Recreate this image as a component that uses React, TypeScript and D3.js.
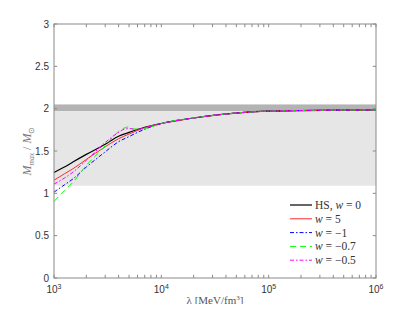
import { curveMonotoneX, line, scaleLinear, scaleLog } from "d3";

// lambda [MeV/fm^3] and M_max / M_sun per curve
const lamHS = [1e3, 1.25e3, 1.5e3, 2e3, 3e3, 4e3, 5e3, 7e3, 1e4, 2e4, 3.5e4, 6e4, 1e5, 2e5, 5e5, 1e6];
const massHS = [1.245, 1.31, 1.37, 1.46, 1.58, 1.675, 1.72, 1.78, 1.825, 1.89, 1.93, 1.957, 1.97, 1.978, 1.983, 1.985];

const lamW5 = [1e3, 1.25e3, 1.5e3, 2e3, 3e3, 4e3, 5e3, 7e3, 1e4, 2e4, 3.5e4, 6e4, 1e5, 2e5, 5e5, 1e6];
const massW5 = [1.155, 1.23, 1.29, 1.4, 1.55, 1.645, 1.7, 1.775, 1.825, 1.89, 1.93, 1.957, 1.97, 1.978, 1.983, 1.985];

const lamWm1 = [1e3, 1.25e3, 1.5e3, 2e3, 3e3, 4e3, 5e3, 6e3, 8e3, 1e4, 2e4, 3.5e4, 6e4, 1e5, 2e5, 5e5, 1e6];
const massWm1 = [1.015, 1.1, 1.17, 1.31, 1.49, 1.61, 1.67, 1.72, 1.785, 1.825, 1.89, 1.93, 1.957, 1.97, 1.978, 1.983, 1.985];

const lamWm07 = [1e3, 1.25e3, 1.5e3, 2e3, 3e3, 3.5e3, 4.5e3, 5e3, 5.5e3, 6.5e3, 8e3, 1e4, 2e4, 3.5e4, 6e4, 1e5, 2e5, 5e5, 1e6];
const massWm07 = [0.905, 1.03, 1.13, 1.33, 1.56, 1.66, 1.77, 1.785, 1.76, 1.76, 1.785, 1.825, 1.89, 1.93, 1.957, 1.97, 1.978, 1.983, 1.985];

const lamWm05 = [1e3, 1.25e3, 1.5e3, 2e3, 3e3, 4e3, 4.6e3, 5.2e3, 5.8e3, 7e3, 1e4, 2e4, 3.5e4, 6e4, 1e5, 2e5, 5e5, 1e6];
const massWm05 = [1.11, 1.18, 1.25, 1.39, 1.6, 1.72, 1.76, 1.765, 1.75, 1.775, 1.825, 1.89, 1.93, 1.957, 1.97, 1.978, 1.983, 1.985];

// observational bands
const darkBand = [1.97, 2.05];
const lightBand = [1.09, 1.97];

const yTicks = [0, 0.5, 1, 1.5, 2, 2.5, 3];
const xDecades = [3, 4, 5, 6];

const series = [
  { name: "HS", w: "0", lam: lamHS, mass: massHS, color: "#000000", dash: "" },
  { name: "", w: "5", lam: lamW5, mass: massW5, color: "#ff2a2a", dash: "" },
  { name: "", w: "\u22121", lam: lamWm1, mass: massWm1, color: "#0000ff", dash: "4,2,1.5,2" },
  { name: "", w: "\u22120.7", lam: lamWm07, mass: massWm07, color: "#00ff00", dash: "6,4" },
  { name: "", w: "\u22120.5", lam: lamWm05, mass: massWm05, color: "#ff00ff", dash: "4,2,1.5,2" },
];

export default function App() {
  const width = 415;
  const height = 312;
  const left = 54;
  const right = 376;
  const top = 24;
  const bottom = 278;

  const x = scaleLog().domain([1e3, 1e6]).range([left, right]);
  const y = scaleLinear().domain([0, 3]).range([bottom, top]);

  const minor: number[] = [];
  for (let d = 3; d < 6; d++) {
    for (let k = 2; k <= 9; k++) minor.push(k * Math.pow(10, d));
  }

  const axisColor = "#8a8a8a";
  const textColor = "#333333";
  const tickLen = 3.2;
  const serif = "'Liberation Serif', 'Times New Roman', serif";

  return (
    <svg width={width} height={height} style={{ display: "block", margin: "-8px" }}>
      <rect width={width} height={height} fill="#ffffff" />
      <rect x={left} y={y(darkBand[1])} width={right - left} height={y(darkBand[0]) - y(darkBand[1])} fill="#b3b3b3" />
      <rect x={left} y={y(lightBand[1])} width={right - left} height={y(lightBand[0]) - y(lightBand[1])} fill="#e6e6e6" />

      {series.map((s, i) => {
        const d = line<number>()
          .x((_, j) => x(s.lam[j]))
          .y((v) => y(v))
          .curve(curveMonotoneX)(s.mass);
        return (
          <path
            key={i}
            d={d ?? ""}
            fill="none"
            stroke={s.color}
            strokeWidth={i === 0 ? 1.2 : 1}
            strokeDasharray={s.dash || undefined}
          />
        );
      })}

      {/* axes box */}
      <rect x={left} y={top} width={right - left} height={bottom - top} fill="none" stroke={axisColor} strokeWidth="1" />

      {yTicks.map((t) => (
        <g key={t}>
          <line x1={left} x2={left + tickLen} y1={y(t)} y2={y(t)} stroke={axisColor} />
          <line x1={right} x2={right - tickLen} y1={y(t)} y2={y(t)} stroke={axisColor} />
          <text
            x={left - 5}
            y={y(t)}
            dy="0.35em"
            textAnchor="end"
            fontFamily="'Liberation Sans', Arial, sans-serif"
            fontSize="10"
            fill={textColor}
          >
            {t}
          </text>
        </g>
      ))}

      {[...xDecades.map((d) => Math.pow(10, d)), ...minor].map((v) => (
        <g key={v}>
          <line x1={x(v)} x2={x(v)} y1={bottom} y2={bottom - tickLen} stroke={axisColor} />
          <line x1={x(v)} x2={x(v)} y1={top} y2={top + tickLen} stroke={axisColor} />
        </g>
      ))}

      {xDecades.map((d) => (
        <text
          key={d}
          x={x(Math.pow(10, d))}
          y={293}
          textAnchor="middle"
          fontFamily="'Liberation Sans', Arial, sans-serif"
          fontSize="10"
          fill={textColor}
        >
          10
          <tspan fontSize="7" dy="-4">
            {d}
          </tspan>
        </text>
      ))}

      <text
        x={(left + right) / 2}
        y={304}
        textAnchor="middle"
        fontFamily={serif}
        fontSize="11"
        fill="#555555"
      >
        λ [MeV/fm
        <tspan fontSize="7" dy="-4">
          3
        </tspan>
        <tspan dy="4">]</tspan>
      </text>

      <text
        transform={`translate(31, ${(top + bottom) / 2}) rotate(-90)`}
        textAnchor="middle"
        fontFamily={serif}
        fontSize="12"
        fill="#777777"
      >
        <tspan fontStyle="italic">M</tspan>
        <tspan fontSize="7.5" fontStyle="italic" dy="2.5">
          max
        </tspan>
        <tspan dy="-2.5"> / </tspan>
        <tspan fontStyle="italic">M</tspan>
        <tspan fontSize="7.5" dy="2.5">
          ⊙
        </tspan>
      </text>

      {/* legend */}
      {series.map((s, i) => {
        const ly = 205 + i * 13.8;
        return (
          <g key={i}>
            <line
              x1={290}
              x2={312}
              y1={ly}
              y2={ly}
              stroke={s.color}
              strokeWidth={i === 0 ? 1.2 : 1}
              strokeDasharray={s.dash || undefined}
            />
            <text
              x={315}
              y={ly}
              dy="0.35em"
              fontFamily={serif}
              fontSize="11.5"
              fontWeight="normal"
              fill="#333333"
            >
              {s.name ? `${s.name}, ` : ""}
              <tspan fontStyle="italic">w</tspan>
              {` = ${s.w}`}
            </text>
          </g>
        );
      })}
    </svg>
  );
}
